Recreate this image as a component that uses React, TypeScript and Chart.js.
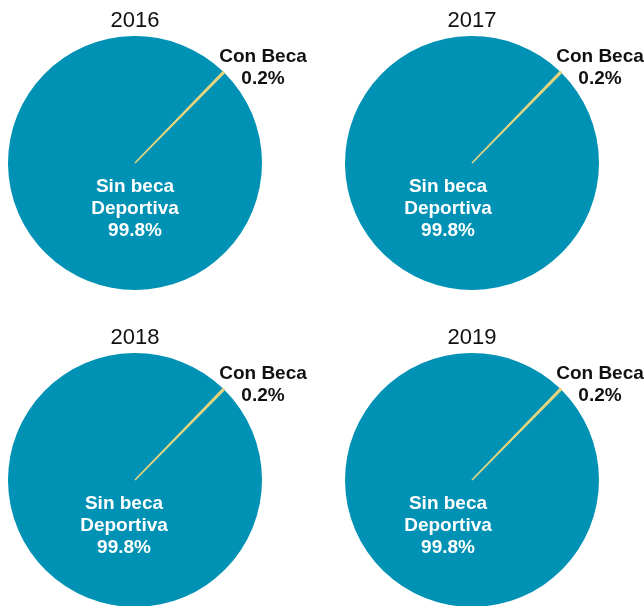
import React, { useEffect, useRef } from "react";
import { Chart, registerables } from "chart.js";

Chart.register(...registerables);

// ---- data ----
const years = ["2016", "2017", "2018", "2019"];
const categories = ["Sin beca Deportiva", "Con Beca"];
const sinBeca = [99.8, 99.8, 99.8, 99.8];
const conBeca = [0.2, 0.2, 0.2, 0.2];
const innerLabelLines = ["Sin beca", "Deportiva"];
const outerLabelLines = ["Con Beca"];

// ---- style / layout ----
const TEAL = "#0092B4";
const YELLOW = "#E4D47E";
const FONT = "'Liberation Sans', Arial, Helvetica, sans-serif";
const RADIUS = 127;
// per-chart panel layout (left, top, width, height of canvas; pie centre in canvas coords; inner label dx)
const panels = [
  { left: 0, top: 0, w: 322, h: 303, cx: 135, cy: 163, innerDx: 0 },
  { left: 322, top: 0, w: 322, h: 303, cx: 150, cy: 163, innerDx: -24 },
  { left: 0, top: 303, w: 322, h: 312, cx: 135, cy: 177, innerDx: -11 },
  { left: 322, top: 303, w: 322, h: 312, cx: 150, cy: 177, innerDx: -24 },
];

const fmt = (v: number) => v.toFixed(1) + "%";

function PieCard({ idx }: { idx: number }) {
  const ref = useRef<HTMLCanvasElement | null>(null);
  const p = panels[idx];
  useEffect(() => {
    const canvas = ref.current;
    if (!canvas) return;
    const labelPlugin = {
      id: "pieLabels",
      afterDraw(chart: any) {
        const ctx = chart.ctx;
        const arc = chart.getDatasetMeta(0).data[0];
        const cx = arc.x;
        const cy = arc.y;
        ctx.save();
        ctx.textAlign = "center";
        ctx.textBaseline = "middle";
        // title
        ctx.fillStyle = "#111";
        ctx.font = `22px ${FONT}`;
        ctx.fillText(years[idx], cx, cy - 142);
        // outer label
        ctx.font = `bold 19px ${FONT}`;
        const ox = cx + 128;
        ctx.fillText(outerLabelLines[0], ox, cy - 106);
        ctx.fillText(fmt(conBeca[idx]), ox, cy - 84);
        // inner label
        ctx.fillStyle = "#ffffff";
        const ix = cx + p.innerDx;
        ctx.fillText(innerLabelLines[0], ix, cy + 24);
        ctx.fillText(innerLabelLines[1], ix, cy + 46);
        ctx.fillText(fmt(sinBeca[idx]), ix, cy + 68);
        ctx.restore();
      },
    };
    const chart = new Chart(canvas, {
      type: "pie",
      data: {
        labels: categories,
        datasets: [
          {
            data: [sinBeca[idx], conBeca[idx]],
            backgroundColor: [TEAL, YELLOW],
            borderColor: [TEAL, YELLOW],
            borderWidth: [0, 1.6],
          },
        ],
      },
      options: {
        responsive: false,
        animation: false,
        rotation: 44.7,
        radius: RADIUS,
        layout: {
          padding: {
            left: p.cx - RADIUS,
            right: p.w - (p.cx + RADIUS),
            top: p.cy - RADIUS,
            bottom: p.h - (p.cy + RADIUS),
          },
        },
        plugins: {
          legend: { display: false },
          tooltip: { enabled: false },
          title: { display: false },
        },
        events: [],
      } as any,
      plugins: [labelPlugin],
    });
    return () => chart.destroy();
  }, [idx]);
  return (
    <canvas
      ref={ref}
      width={p.w}
      height={p.h}
      style={{ position: "absolute", left: p.left, top: p.top, width: p.w, height: p.h }}
    />
  );
}

export default function App() {
  return (
    <div
      style={{
        position: "fixed",
        left: 0,
        top: 0,
        width: 644,
        height: 606,
        overflow: "hidden",
        background: "#ffffff",
      }}
    >
      {years.map((y, i) => (
        <PieCard key={y} idx={i} />
      ))}
    </div>
  );
}
